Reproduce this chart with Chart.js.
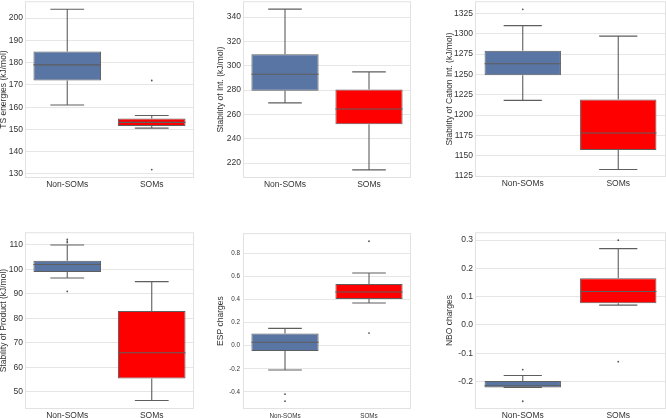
<!DOCTYPE html>
<html>
<head>
<meta charset="utf-8">
<script src="https://cdn.jsdelivr.net/npm/chart.js@4.4.0/dist/chart.umd.min.js"></script>
<style>
  body{margin:0;background:#fff;width:666px;height:418px;overflow:hidden;position:relative;}
  canvas{position:absolute;}
</style>
</head>
<body>
<script>
// categories
const groups=["Non-SOMs","SOMs"];

// box stats per group: [low whisker, Q1, median, Q3, high whisker]
const tsStats=[[161,172,179,185,204],[150.6,151.5,153.2,154.9,156.3]];
const tsOut=[[],[172,132]];
const intStats=[[269.5,279.5,293,309.5,346.5],[214.5,252,264.5,280.5,295]];
const intOut=[[],[]];
const cationStats=[[1218,1249,1263,1279,1310],[1133,1157,1178,1219,1297]];
const cationOut=[[1330],[]];
const prodStats=[[96.5,99,102,103.5,110],[46.5,55.5,66,83,95]];
const prodOut=[[112.3,111.6,111,91],[]];
const espStats=[[-0.21,-0.045,0.03,0.105,0.15],[0.37,0.405,0.465,0.535,0.63]];
const espOut=[[-0.42,-0.48],[0.905,0.11]];
const nboStats=[[-0.221,-0.221,-0.215,-0.198,-0.179],[0.07,0.077,0.118,0.165,0.27]];
const nboOut=[[-0.158,-0.27],[0.3,-0.13]];

// y tick labels
const tsTicks=[130,140,150,160,170,180,190,200];
const intTicks=[220,240,260,280,300,320,340];
const cationTicks=[1125,1150,1175,1200,1225,1250,1275,1300,1325];
const prodTicks=[50,60,70,80,90,100,110];
const espTicks=["-0.4","-0.2","0.0","0.2","0.4","0.6","0.8"];
const nboTicks=["-0.2","-0.1","0.0","0.1","0.2","0.3"];

const yTitles=["TS energies (kJ/mol)","Stability of Int. (kJ/mol)","Stability of Cation Int. (kJ/mol)",
  "Stability of Product (kJ/mol)","ESP charges","NBO charges"];

const boxColors=["#5875a4","#ff0000"];
const lineCol="#5e5e5e";
const FONT="'Liberation Sans', Arial, sans-serif";

// panel layout: canvas left/top/size, y-axis width, x-axis height, axis range
const panels=[
  {stats:tsStats,out:tsOut,ticks:tsTicks,left:0,top:-1,w:194,h:200,yw:25,xh:21,min:128.2,max:207.6,fs:8.5},
  {stats:intStats,out:intOut,ticks:intTicks,left:217,top:-1,w:194,h:200,yw:26,xh:21,min:207.8,max:353,fs:8.5},
  {stats:cationStats,out:cationOut,ticks:cationTicks,left:446,top:-1,w:220,h:200,yw:29,xh:22,min:1123.8,max:1340,fs:8.5},
  {stats:prodStats,out:prodOut,ticks:prodTicks,left:0,top:230,w:194,h:188,yw:25,xh:9,min:43,max:115.2,fs:8.5},
  {stats:espStats,out:espOut,ticks:espTicks,left:217,top:230,w:194,h:188,yw:26,xh:9,min:-0.548,max:0.975,fs:6.3},
  {stats:nboStats,out:nboOut,ticks:nboTicks,left:446,top:230,w:220,h:188,yw:29,xh:9,min:-0.2975,max:0.328,fs:8.5}
];

const boxPlugin={
  id:"boxPlugin",
  beforeDatasetsDraw(chart){
    const a=chart.chartArea, c=chart.ctx;
    c.save(); c.strokeStyle="#e2e2e2"; c.lineWidth=1;
    c.strokeRect(a.left+0.5,a.top+0.5,a.right-a.left-1,a.bottom-a.top-1);
    c.restore();
  },
  afterDatasetsDraw(chart){
    const stats=chart.options.plugins.boxPlugin.stats;
    const y=chart.scales.y, c=chart.ctx;
    const meta=chart.getDatasetMeta(0);
    c.save(); c.strokeStyle=lineCol; c.lineWidth=1.1;
    meta.data.forEach((el,i)=>{
      const s=stats[i], x=el.x, hw=el.width/2, cw=el.width/4;
      const p=v=>y.getPixelForValue(v);
      c.beginPath();
      c.moveTo(x,p(s[3])); c.lineTo(x,p(s[4]));
      c.moveTo(x,p(s[1])); c.lineTo(x,p(s[0]));
      c.moveTo(x-cw,p(s[4])); c.lineTo(x+cw,p(s[4]));
      c.moveTo(x-cw,p(s[0])); c.lineTo(x+cw,p(s[0]));
      c.moveTo(x-hw,p(s[2])); c.lineTo(x+hw,p(s[2]));
      c.stroke();
    });
    c.restore();
  }
};

panels.forEach((pn,k)=>{
  const cv=document.createElement("canvas");
  cv.width=pn.w; cv.height=pn.h;
  cv.style.left=pn.left+"px"; cv.style.top=pn.top+"px";
  document.body.appendChild(cv);
  const outPts=[];
  pn.out.forEach((arr,i)=>arr.forEach(v=>outPts.push({x:groups[i],y:v})));
  new Chart(cv.getContext("2d"),{
    type:"bar",
    data:{
      labels:groups,
      datasets:[
        {data:pn.stats.map(s=>[s[1],s[3]]),backgroundColor:boxColors,borderColor:lineCol,borderWidth:1,
         borderSkipped:false,barPercentage:0.8,categoryPercentage:1},
        {type:"line",data:outPts,showLine:false,borderWidth:0,pointRadius:0.9,pointBackgroundColor:"#555",pointBorderWidth:0}
      ]
    },
    options:{
      responsive:false,animation:false,
      layout:{autoPadding:false,padding:{top:1,right:0,left:0,bottom:0}},
      plugins:{legend:{display:false},tooltip:{enabled:false},boxPlugin:{stats:pn.stats}},
      scales:{
        x:{
          grid:{display:false,drawTicks:false},border:{display:false},
          ticks:{color:"#333",padding:k===4?3:2,font:{family:FONT,size:pn.fs}},
          afterFit(s){ s.height=pn.xh; }
        },
        y:{
          min:pn.min,max:pn.max,
          grid:{color:"#e6e6e6",drawTicks:false},border:{display:false},
          afterBuildTicks(s){ s.ticks=pn.ticks.map(v=>({value:Number(v)})); },
          ticks:{color:"#333",padding:k===4?3:2,font:{family:FONT,size:pn.fs,lineHeight:0.05},
            callback:(v,i)=>String(pn.ticks[i])},
          title:{display:true,text:yTitles[k],color:"#333",padding:0,font:{family:FONT,size:8.5,lineHeight:0.8}},
          afterFit(s){ s.width=pn.yw; }
        }
      }
    },
    plugins:[boxPlugin]
  });
});
</script>
</body>
</html>
